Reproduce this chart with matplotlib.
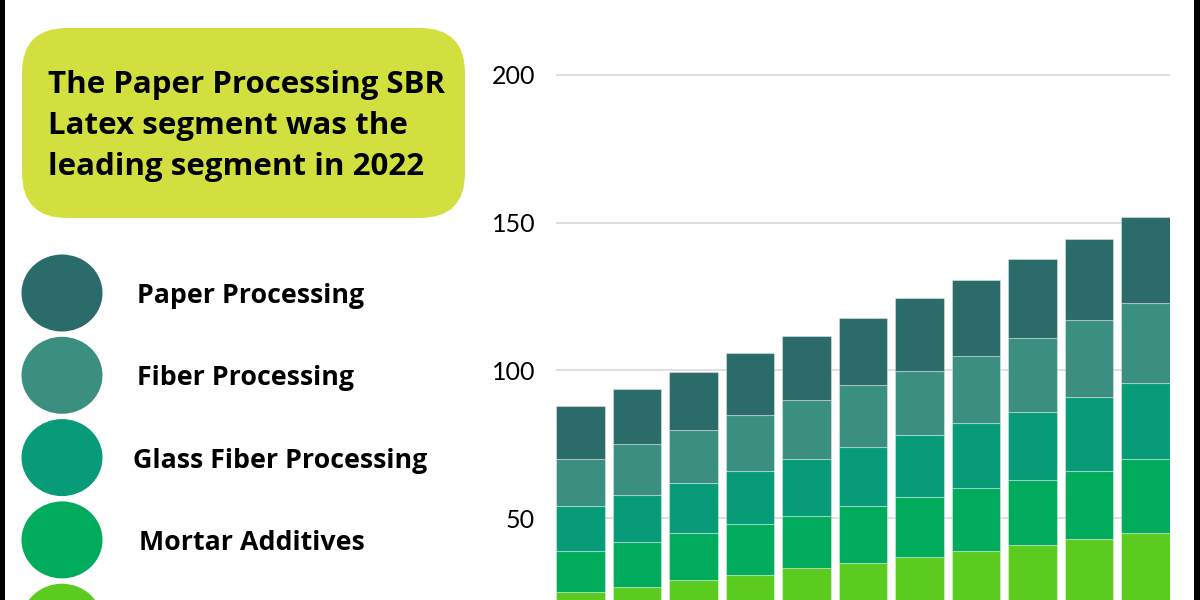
import matplotlib.pyplot as plt
from matplotlib.patches import FancyBboxPatch, Ellipse, Rectangle

# ---------------- DATA ---------------- #
years = list(range(11))  # 11 yearly bars, no axis labels shown

# segments from bottom to top
lime = [24.9, 26.8, 29.0, 30.8, 33.0, 34.9, 36.9, 38.9, 40.9, 42.9, 44.9]
mortar = [13.9, 15.1, 15.9, 17.1, 17.7, 19.2, 20.2, 21.1, 22.0, 23.0, 25.1]
glass_fiber = [15.3, 15.8, 16.9, 18.0, 19.3, 19.8, 20.9, 22.1, 23.0, 25.0, 25.8]
fiber = [15.9, 17.3, 18.0, 18.9, 20.0, 21.2, 21.9, 22.8, 25.2, 26.0, 27.0]
paper = [17.8, 18.6, 19.8, 20.9, 21.6, 22.6, 24.7, 25.8, 26.6, 27.7, 29.0]

series = [lime, mortar, glass_fiber, fiber, paper]
colors = ["#5BCB1F", "#00AB5B", "#079B77", "#3A8F7E", "#2B6B69"]

legend_labels = ["Paper Processing", "Fiber Processing",
                 "Glass Fiber Processing", "Mortar Additives", ""]
legend_colors = ["#2B6B69", "#3A8F7E", "#079B77", "#00AB5B", "#5BCB1F"]

yticks = [50, 100, 150, 200]
title = "The Paper Processing SBR\nLatex segment was the\nleading segment in 2022"

# ---------------- FIGURE ---------------- #
W, H = 1200, 600
fig = plt.figure(figsize=(12, 6), dpi=100)
fig.patch.set_facecolor("white")

# background layer in pixel coordinates
bg = fig.add_axes([0, 0, 1, 1])
bg.set_xlim(0, W)
bg.set_ylim(H, 0)
bg.axis("off")

# title box
box = FancyBboxPatch((22, 28), 443, 190,
                     boxstyle="round,pad=0,rounding_size=45",
                     facecolor="#D2E03F", edgecolor="none")
bg.add_patch(box)
bg.text(48, 126, title, fontsize=22.5, fontweight="bold",
        family="Open Sans", ha="left", va="center", linespacing=1.5,
        color="black")

# legend circles + labels
label_x = [137, 137, 133, 139, 137]
for i, (lab, col) in enumerate(zip(legend_labels, legend_colors)):
    cy = 293 + i * 82.3
    bg.add_patch(Ellipse((62, cy), 81, 77, facecolor=col, edgecolor="none"))
    if lab:
        bg.text(label_x[i], cy + 3, lab, fontsize=19.3, fontweight="bold",
                family="Open Sans", ha="left", va="center", color="black")

# black side borders
bg.add_patch(Rectangle((0, 0), 5, H, facecolor="black", edgecolor="none"))
bg.add_patch(Rectangle((1194, 0), 6, H, facecolor="black", edgecolor="none"))

# ---------------- BAR CHART ---------------- #
ax = fig.add_axes([556 / W, 0, (1170 - 556) / W, 1])
ax.patch.set_alpha(0)

width = 0.863
bottom = [0] * len(years)
for vals, col in zip(series, colors):
    ax.bar(years, vals, width=width, bottom=bottom, color=col,
           edgecolor=(1, 1, 1, 0.35), linewidth=0.8, zorder=3)
    bottom = [b + v for b, v in zip(bottom, vals)]

ax.set_xlim(-width / 2, len(years) - 1 + width / 2)
# 200 at y=75px, 50 at y=518px
ppu = (518 - 75) / 150
ax.set_ylim(50 - (H - 518) / ppu, 200 + 75 / ppu)

ax.set_yticks(yticks)
ax.set_yticklabels([str(t) for t in yticks], fontsize=18, family="Lato",
                   color="black")
ax.tick_params(axis="y", length=0, pad=15)
ax.set_xticks([])
ax.grid(axis="y", color="#d9d9d9", linewidth=1.2, zorder=0)
for s in ax.spines.values():
    s.set_visible(False)

fig.savefig("out.png", dpi=100)
